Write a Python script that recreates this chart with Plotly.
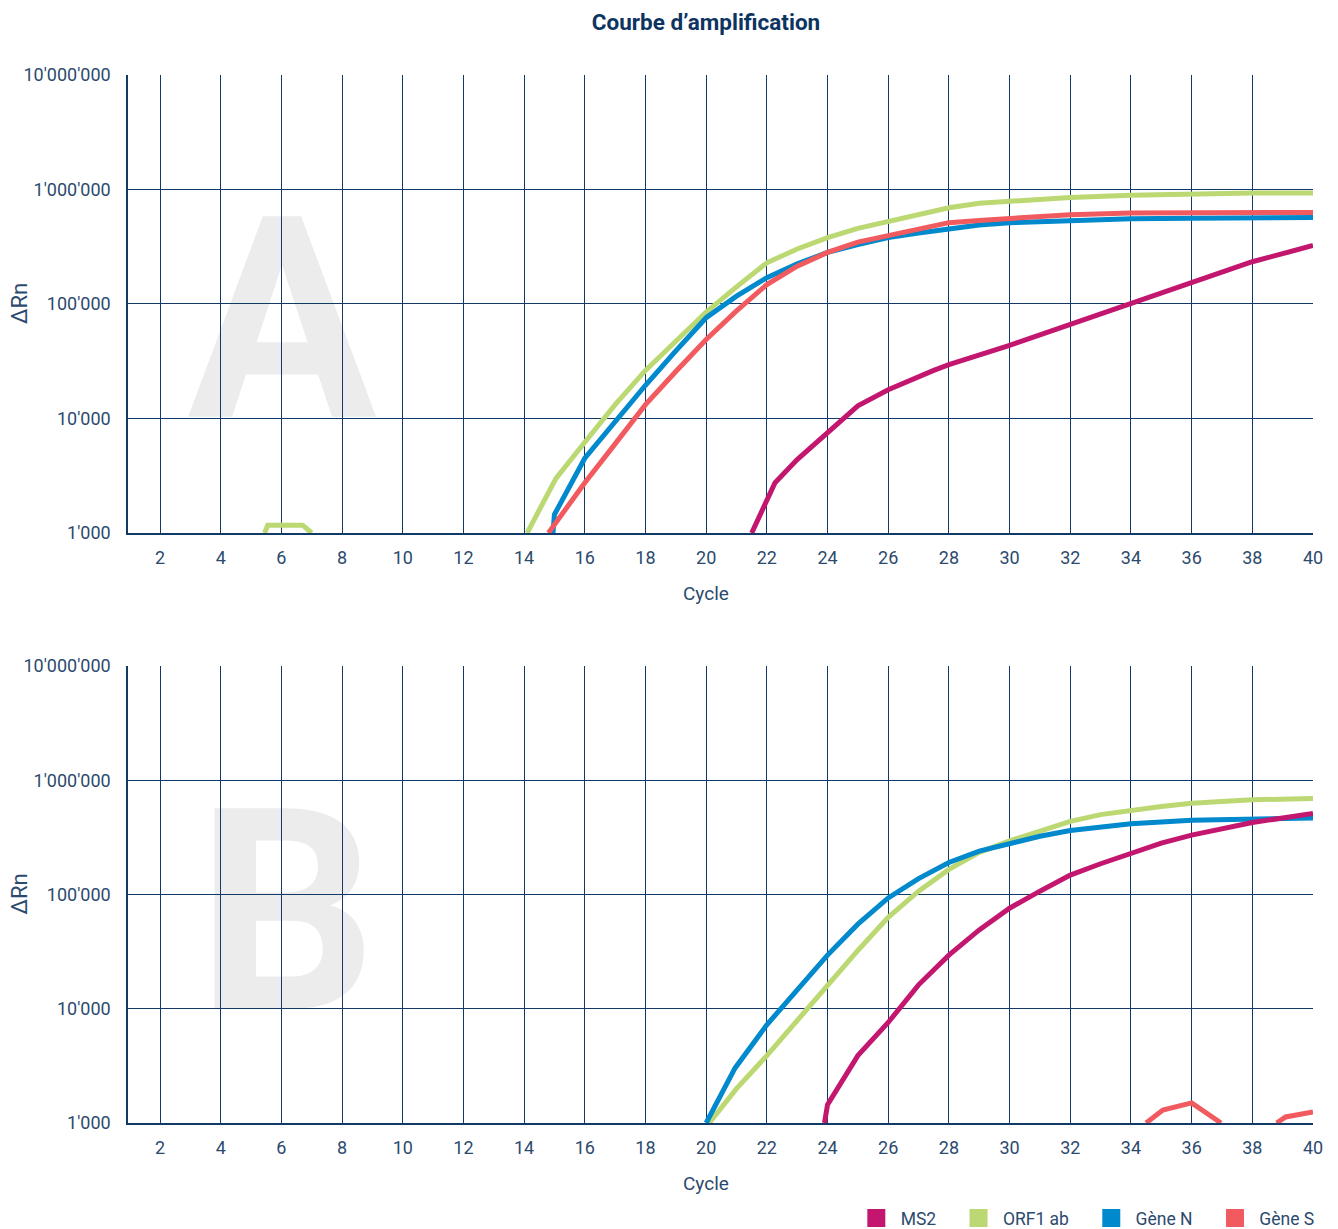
import plotly.graph_objects as go

# ---------------- data ----------------
x_ticks = list(range(2, 41, 2))
y_tickvals = [1e3, 1e4, 1e5, 1e6, 1e7]
y_ticktext = ["1'000", "10'000", "100'000", "1'000'000", "10'000'000"]

series_names = ["MS2", "ORF1 ab", "Gène N", "Gène S"]
series_colors = ["#c3176f", "#bcd873", "#0089cc", "#f15b5f"]

# Panel A
a_ms2_x = [21.5, 22.27, 23, 24, 25, 26, 27, 27.5, 28, 29, 30, 31, 32, 33, 34, 35, 36, 37, 38, 39, 40]
a_ms2_y = [1000, 2750, 4370, 7400, 12900, 17800, 23400, 26300, 29500, 35500, 43600, 53700, 66100,
           81300, 102000, 126000, 155000, 191000, 234000, 275000, 324000]

a_orf_x = [5.45, 5.55, 6.7, 7.0, None,
           14.1, 15.05, 16, 17, 18, 19, 20, 21, 22, 23, 24, 25, 26, 27, 28, 29, 30, 31, 32, 34, 36, 38, 40]
a_orf_y = [1000, 1170, 1170, 1000, None,
           1000, 3000, 6200, 13200, 26300, 47900, 85000, 141000, 229000, 302000, 380000, 457000,
           525000, 603000, 692000, 759000, 794000, 832000, 851000, 891000, 923000, 933000, 933000]

a_n_x = [14.95, 15.0, 16, 17, 18, 19, 20, 21, 22, 23, 24, 25, 26, 27, 28, 29, 30, 32, 34, 36, 38, 40]
a_n_y = [1000, 1450, 4500, 9500, 19500, 38900, 75900, 117000, 170000, 224000, 282000, 331000,
         380000, 417000, 457000, 490000, 513000, 537000, 556000, 562000, 569000, 569000]

a_s_x = [14.8, 16, 17, 18, 19, 20, 21, 22, 23, 24, 25, 26, 27, 28, 29, 30, 32, 34, 36, 38, 40]
a_s_y = [1000, 2750, 6000, 13200, 25700, 49000, 87100, 148000, 214000, 282000, 347000, 398000,
         457000, 513000, 537000, 562000, 603000, 624000, 631000, 631000, 631000]

# Panel B
b_ms2_x = [23.9, 24.0, 25, 26, 27, 28, 29, 30, 31, 32, 33, 34, 35, 36, 37, 38, 39, 40]
b_ms2_y = [1000, 1450, 3890, 7590, 16200, 29500, 49000, 75900, 107000, 148000, 186000, 229000,
           282000, 331000, 380000, 427000, 468000, 513000]

b_orf_x = [20.1, 21, 22, 23, 24, 25, 26, 27, 28, 29, 30, 31, 32, 33, 34, 35, 36, 38, 40]
b_orf_y = [1000, 2000, 3890, 7940, 16200, 32400, 63100, 107000, 166000, 234000, 295000, 363000,
           437000, 501000, 550000, 589000, 631000, 676000, 692000]

b_n_x = [20, 20.95, 22, 23, 24, 25, 26, 27, 28, 29, 30, 31, 32, 33, 34, 36, 38, 40]
b_n_y = [1000, 3020, 7240, 14800, 29500, 55000, 93300, 138000, 191000, 240000, 282000, 324000,
         363000, 389000, 417000, 447000, 462000, 468000]

b_s_x = [34.5, 35.05, 36.0, 36.97, None, 38.8, 39.1, 40]
b_s_y = [1000, 1300, 1500, 1000, None, 1000, 1130, 1250]

# ---------------- styling ----------------
NAVY = "#123a66"
TXT = "#2c4a6e"
FONT = "Roboto"
LW = 5

fig = go.Figure()

panelA = [(a_orf_x, a_orf_y, 1), (a_n_x, a_n_y, 2), (a_s_x, a_s_y, 3), (a_ms2_x, a_ms2_y, 0)]
panelB = [(b_orf_x, b_orf_y, 1), (b_n_x, b_n_y, 2), (b_s_x, b_s_y, 3), (b_ms2_x, b_ms2_y, 0)]

for xs, ys, i in panelA:
    fig.add_trace(go.Scatter(x=xs, y=ys, mode="lines", line=dict(color=series_colors[i], width=LW),
                             name=series_names[i], showlegend=False, xaxis="x", yaxis="y"))
for xs, ys, i in panelB:
    fig.add_trace(go.Scatter(x=xs, y=ys, mode="lines", line=dict(color=series_colors[i], width=LW),
                             name=series_names[i], showlegend=False, xaxis="x2", yaxis="y2"))

NBSP = "\u00a0"
for name, col in zip(series_names, series_colors):
    fig.add_trace(go.Scatter(x=[None], y=[None], mode="markers", name=NBSP + name + NBSP * 4,
                             marker=dict(symbol="square", size=16, color=col, line=dict(color=col, width=2)),
                             xaxis="x2", yaxis="y2", showlegend=True))

xcommon = dict(range=[0.945, 40], tickmode="array", tickvals=x_ticks, ticks="", showgrid=False,
               showline=True, linecolor=NAVY, linewidth=1.5, zeroline=False,
               ticklabelstandoff=8,
               tickfont=dict(family=FONT, size=18, color=TXT),
               minor=dict(tickmode="array", tickvals=list(range(2, 40, 2)), showgrid=True,
                          gridcolor=NAVY, gridwidth=1.3, ticks=""))
ycommon = dict(type="log", range=[3, 7], tickmode="array", tickvals=y_tickvals, ticktext=y_ticktext,
               ticks="", showgrid=False, showline=True, linecolor=NAVY, linewidth=1.5, zeroline=False,
               ticklabelstandoff=12,
               tickfont=dict(family=FONT, size=18, color=TXT),
               minor=dict(tickmode="array", tickvals=[1e4, 1e5, 1e6], showgrid=True,
                          gridcolor=NAVY, gridwidth=1.3, ticks=""))

fig.update_layout(
    width=1338, height=1229, autosize=False,
    margin=dict(l=128, r=25, t=75, b=106, autoexpand=False),
    paper_bgcolor="white", plot_bgcolor="white",
    font=dict(family=FONT, color=TXT),
    title=dict(text="<b>Courbe d’amplification</b>", x=706/1338, xanchor="center",
               xref="container", yref="container", y=1-22/1229, yanchor="middle",
               font=dict(family=FONT, size=22.5, color="#0d3461")),
    xaxis=dict(domain=[0, 1], anchor="y", **xcommon),
    yaxis=dict(domain=[0.563, 1], anchor="x", **ycommon),
    xaxis2=dict(domain=[0, 1], anchor="y2", **xcommon),
    yaxis2=dict(domain=[0, 0.436], anchor="x2", **ycommon),
    legend=dict(orientation="h", xref="container", yref="container",
                x=0.9995, xanchor="right", y=1 - 1218/1229, yanchor="middle",
                font=dict(family=FONT, size=17.5, color=TXT), bgcolor="rgba(0,0,0,0)"),
    showlegend=True,
)

# Axis titles as annotations
for yc in [(0.563 + 1) / 2, 0.436 / 2]:
    fig.add_annotation(text="ΔRn", textangle=-90, xref="paper", yref="paper",
                       x=(20 - 128) / 1185, y=yc, xanchor="center", yanchor="middle",
                       showarrow=False, font=dict(family=FONT, size=22, color=TXT))
for yc in [(1123 - 593) / 1048, (1123 - 1183) / 1048]:
    fig.add_annotation(text="Cycle", xref="paper", yref="paper",
                       x=(706 - 128) / 1185, y=yc, xanchor="center", yanchor="middle",
                       showarrow=False, font=dict(family=FONT, size=19, color=TXT))

# Large background letters (below gridlines)
for letter, xr, yr, cx, cy in [("A", "x domain", "y domain", 0.13, 0.508),
                               ("B", "x2 domain", "y2 domain", 0.134, 0.505)]:
    fig.add_shape(type="rect", xref=xr, yref=yr, x0=cx - 0.1, x1=cx + 0.1, y0=cy - 0.35, y1=cy + 0.35,
                  layer="below", line=dict(width=0), fillcolor="rgba(0,0,0,0)",
                  label=dict(text=letter, textposition="middle center",
                             font=dict(family=FONT, size=282, color="#ececec", weight="bold")))

fig.write_html("out.html", config={"responsive": False, "displayModeBar": False},
               post_script="document.body.style.margin='0';document.body.style.padding='0';")
